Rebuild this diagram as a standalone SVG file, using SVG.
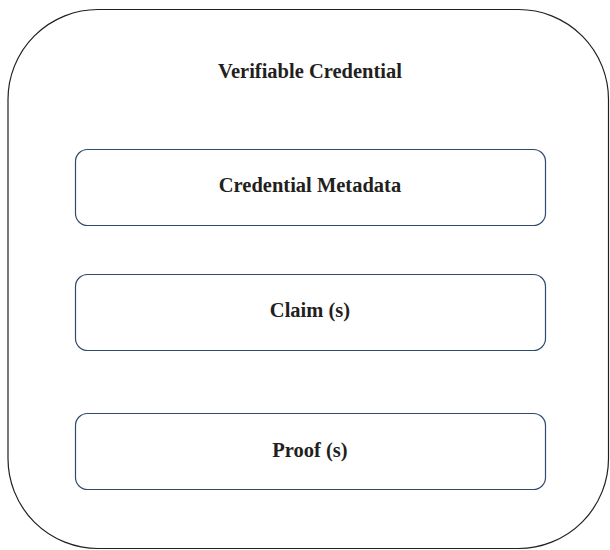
<svg xmlns="http://www.w3.org/2000/svg" width="610" height="550" viewBox="0 0 610 550">
  <style>
    .outer { fill: #ffffff; stroke: #231f20; stroke-width: 1.2; }
    .part { fill: #ffffff; stroke: #2f4a6d; stroke-width: 1.2; }
    .label { font-family: "Liberation Serif", "DejaVu Serif", serif; font-weight: bold; font-size: 20.5px; fill: #231f20; text-anchor: middle; }
  </style>
  <rect width="610" height="550" fill="#ffffff"/>
  <g id="verifiable-credential">
    <rect class="outer" x="8" y="9.5" width="600.5" height="539" rx="90" ry="90"/>
    <text class="label" x="310" y="78">Verifiable Credential</text>
  </g>
  <g id="credential-metadata">
    <rect class="part" x="75.5" y="149.5" width="470" height="76" rx="12" ry="12"/>
    <text class="label" x="310" y="192">Credential Metadata</text>
  </g>
  <g id="claims">
    <rect class="part" x="75.5" y="274.5" width="470" height="76" rx="12" ry="12"/>
    <text class="label" x="310" y="317">Claim (s)</text>
  </g>
  <g id="proofs">
    <rect class="part" x="75.5" y="413.5" width="470" height="76" rx="12" ry="12"/>
    <text class="label" x="310" y="457">Proof (s)</text>
  </g>
  <g id="connectors"/>
</svg>
